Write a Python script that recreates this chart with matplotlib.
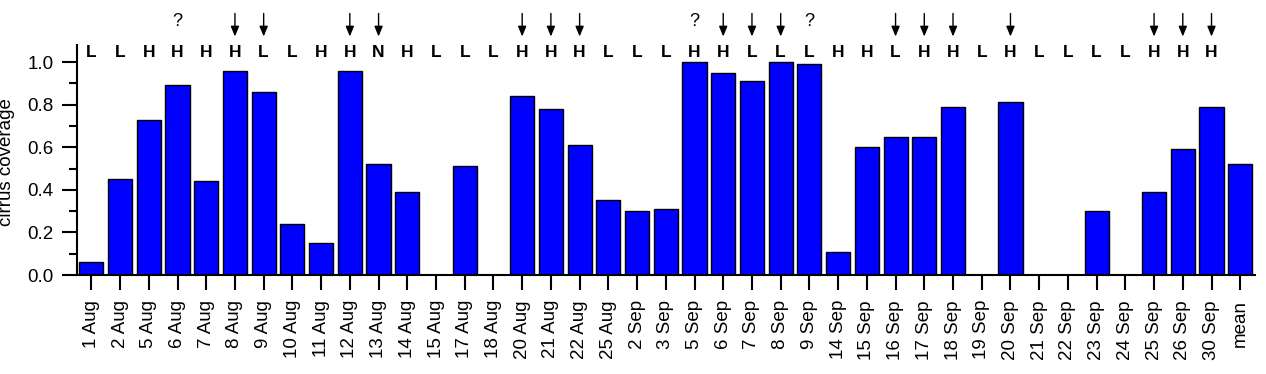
import matplotlib
matplotlib.use("Agg")
import matplotlib.pyplot as plt
import numpy as np

plt.rcParams["font.family"] = ["Liberation Sans", "DejaVu Sans"]

dates = ["1 Aug", "2 Aug", "5 Aug", "6 Aug", "7 Aug", "8 Aug", "9 Aug", "10 Aug",
         "11 Aug", "12 Aug", "13 Aug", "14 Aug", "15 Aug", "17 Aug", "18 Aug",
         "20 Aug", "21 Aug", "22 Aug", "25 Aug", "2 Sep", "3 Sep", "5 Sep", "6 Sep",
         "7 Sep", "8 Sep", "9 Sep", "14 Sep", "15 Sep", "16 Sep", "17 Sep", "18 Sep",
         "19 Sep", "20 Sep", "21 Sep", "22 Sep", "23 Sep", "24 Sep", "25 Sep",
         "26 Sep", "30 Sep", "mean"]
coverage = [0.06, 0.45, 0.73, 0.89, 0.44, 0.96, 0.86, 0.24, 0.15, 0.96, 0.52, 0.39,
            0.0, 0.51, 0.0, 0.84, 0.78, 0.61, 0.35, 0.30, 0.31, 1.00, 0.95, 0.91,
            1.00, 0.99, 0.11, 0.60, 0.65, 0.65, 0.79, 0.0, 0.81, 0.0, 0.0, 0.30,
            0.0, 0.39, 0.59, 0.79, 0.52]
# regime letter per day (no letter above the mean bar)
regime = list("LLHHHHLLHHNHLLLHHHLLLHHLLLHHLHHLHLLLLHHH")
arrow_days = ["8 Aug", "9 Aug", "12 Aug", "13 Aug", "20 Aug", "21 Aug", "22 Aug",
              "6 Sep", "7 Sep", "8 Sep", "16 Sep", "17 Sep", "18 Sep", "20 Sep",
              "25 Sep", "26 Sep", "30 Sep"]
query_days = ["6 Aug", "5 Sep", "9 Sep"]

fig = plt.figure(figsize=(12.66, 3.74), dpi=100)
ax = fig.add_axes([0.0608, 0.2647, 0.9302, 0.615])

x = np.arange(len(dates))
ax.bar(x, coverage, width=0.84, color="#0000FF", edgecolor="black", linewidth=1.0)

ax.set_xlim(-0.5, len(dates) - 0.5)
ax.set_ylim(0, 1.08)
ax.set_xticks(x, labels=dates, rotation=90)
ax.set_yticks(np.arange(0, 1.01, 0.2))
ax.set_yticks(np.arange(0.1, 1.0, 0.2), minor=True)
ax.yaxis.set_major_formatter(matplotlib.ticker.FormatStrFormatter("%.1f"))
ax.tick_params(axis="both", which="major", length=11, width=1.5, labelsize=13.5,
               direction="out")
ax.tick_params(axis="y", which="major", pad=6)
ax.tick_params(axis="y", which="minor", length=6, width=1.5)
ax.tick_params(axis="x", which="major", pad=7)
for side in ("top", "right"):
    ax.spines[side].set_visible(False)
for side in ("left", "bottom"):
    ax.spines[side].set_linewidth(1.5)

ax.set_ylabel("cirrus coverage", fontsize=13.5)
ax.yaxis.set_label_coords(-0.0525, 0.49)

for i, r in enumerate(regime):
    ax.text(i, 1.047, r, ha="center", va="center", fontsize=12.5, fontweight="bold",
            clip_on=False)
for d in arrow_days:
    i = dates.index(d)
    ax.annotate("", xy=(i, 1.12), xytext=(i, 1.228), xycoords="data",
                arrowprops=dict(arrowstyle="-|>,head_length=0.6,head_width=0.25",
                                color="black", lw=1.0, shrinkA=0, shrinkB=0),
                annotation_clip=False)
for d in query_days:
    i = dates.index(d)
    ax.text(i, 1.19, "?", ha="center", va="center", fontsize=13, clip_on=False)

fig.savefig("out.png", dpi=100)
